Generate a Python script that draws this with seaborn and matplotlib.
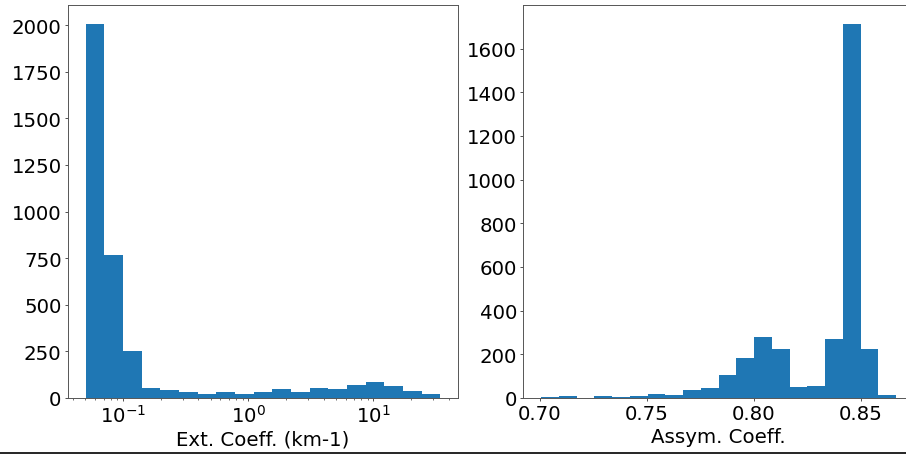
import numpy as np
import pandas as pd
import matplotlib
matplotlib.use("Agg")
import matplotlib.pyplot as plt
import seaborn as sns
from matplotlib.lines import Line2D

# ---- data ----
ext_counts = [2007, 768, 252, 54, 41, 34, 22, 31, 22, 31, 50, 31, 54, 47, 72, 85, 65, 38, 20]
ext_min, ext_max = 0.0503, 34.2          # extent of the log-spaced bins

asym_counts = [4, 8, 2, 9, 4, 9, 17, 12, 37, 46, 105, 185, 278, 223, 52, 55, 269, 1714, 226, 12]
asym_min, asym_max = 0.7005, 0.8665

ext_label = "Ext. Coeff. (km-1)"
asym_label = "Assym. Coeff."

# ---- build histogram inputs ----
ext_edges = np.logspace(np.log10(ext_min), np.log10(ext_max), len(ext_counts) + 1)
ext_centers = np.sqrt(ext_edges[:-1] * ext_edges[1:])
asym_edges = np.linspace(asym_min, asym_max, len(asym_counts) + 1)
asym_centers = (asym_edges[:-1] + asym_edges[1:]) / 2

df_ext = pd.DataFrame({"x": ext_centers, "w": ext_counts})
df_asym = pd.DataFrame({"x": asym_centers, "w": asym_counts})

plt.rcParams["font.family"] = ["DejaVu Sans"]
plt.rcParams["font.size"] = 14.2

fig = plt.figure(figsize=(9.06, 4.56), dpi=100)
W, H = 906, 456
ax1 = fig.add_axes([68 / W, 1 - 399 / H, (458 - 68) / W, (399 - 6) / H])
ax2 = fig.add_axes([523.3 / W, 1 - 399 / H, (914 - 523.3) / W, (399 - 6) / H])

bar_kw = dict(color="#1f77b4", alpha=1, edgecolor="#1f77b4", linewidth=0)
sns.histplot(data=df_ext, x="x", weights="w", bins=len(ext_counts),
             binrange=(np.log10(ext_min), np.log10(ext_max)), log_scale=True, ax=ax1, **bar_kw)
sns.histplot(data=df_asym, x="x", weights="w", bins=len(asym_counts),
             binrange=(asym_min, asym_max), ax=ax2, **bar_kw)

ax1.set_xlabel(ext_label, labelpad=2.5)
ax2.set_xlabel(asym_label, labelpad=2.5)
for ax in (ax1, ax2):
    ax.set_ylabel("")
    for s in ax.spines.values():
        s.set_color("#555555")
        s.set_linewidth(0.7)
    ax.tick_params(which="major", length=2.3, width=0.6, pad=2.3,
                   colors="#333333", labelcolor="black")
    ax.tick_params(which="minor", length=1.4, width=0.5, colors="#333333")

ax2.set_xticks([0.70, 0.75, 0.80, 0.85])
ax2.set_xticklabels(["0.70", "0.75", "0.80", "0.85"])

fig.add_artist(Line2D([0, 1], [1 - 453.5 / H, 1 - 453.5 / H], transform=fig.transFigure,
                      color="black", linewidth=1.2))

fig.savefig("out.png", dpi=100)
